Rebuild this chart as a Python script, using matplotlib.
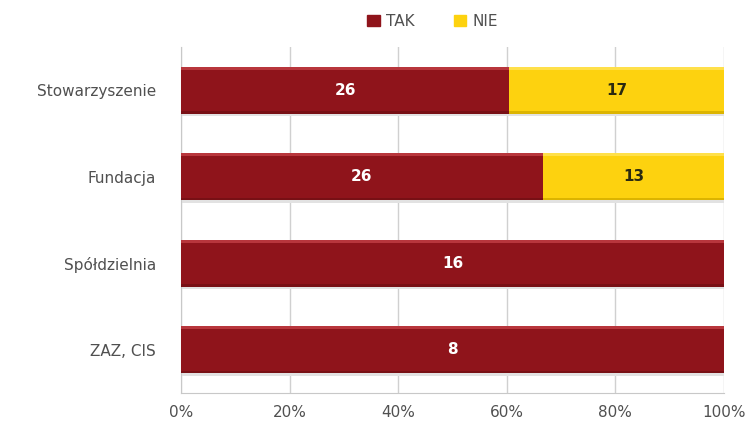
import matplotlib
matplotlib.use("Agg")
import matplotlib.pyplot as plt
import numpy as np

categories = ["Stowarzyszenie", "Fundacja", "Spółdzielnia", "ZAZ, CIS"]
tak = [26, 26, 16, 8]
nie = [17, 13, 0, 0]
series_names = ["TAK", "NIE"]
tick_labels = ["0%", "20%", "40%", "60%", "80%", "100%"]

RED = "#8f141b"
RED_HI = "#b8363c"
RED_LO = "#781015"
YEL = "#fdd20f"
YEL_HI = "#ffe04a"
YEL_LO = "#dcb400"
TXT = "#505050"

plt.rcParams["font.family"] = ["DejaVu Sans"]

fig = plt.figure(figsize=(7.55, 4.34), dpi=100)
ax = fig.add_axes([0.2397, 0.0945, 0.7193, 0.7972])

tak_a = np.array(tak, float)
nie_a = np.array(nie, float)
total = tak_a + nie_a
p_tak = tak_a / total
p_nie = nie_a / total
y = np.arange(len(categories))
h = 0.545

def bevel_bar(left, width, color, hi, lo):
    # soft shadow under the bar
    ax.barh(y + h / 2 + 0.015, width, left=left, height=0.03, color="#e2e2e2", zorder=2, linewidth=0)
    ax.barh(y, width, left=left, height=h, color=color, zorder=3, linewidth=0)
    # light top edge and dark bottom edge for a raised look
    ax.barh(y - h / 2 + 0.018, width, left=left, height=0.036, color=hi, zorder=4, linewidth=0)
    ax.barh(y + h / 2 - 0.015, width, left=left, height=0.03, color=lo, zorder=4, linewidth=0)

bevel_bar(0, p_tak, RED, RED_HI, RED_LO)
bevel_bar(p_tak, p_nie, YEL, YEL_HI, YEL_LO)

for i in range(len(categories)):
    ax.text(p_tak[i] / 2, y[i], f"{tak[i]}", ha="center", va="center",
            color="white", fontsize=11, fontweight="bold", zorder=5)
    if nie[i] > 0:
        ax.text(p_tak[i] + p_nie[i] / 2, y[i], f"{nie[i]}", ha="center", va="center",
                color="#2a2a10", fontsize=11, fontweight="bold", zorder=5)

ax.set_xlim(0, 1)
ax.set_ylim(len(categories) - 0.5, -0.5)
ticks = np.linspace(0, 1, len(tick_labels))
ax.set_xticks(ticks)
ax.set_xticklabels(tick_labels, fontsize=11, color=TXT)
ax.set_yticks(y)
ax.set_yticklabels(categories, fontsize=11, color=TXT)
ax.tick_params(axis="x", length=0, pad=9)
ax.tick_params(axis="y", length=0, pad=18)
ax.xaxis.grid(True, color="#d0d0d0", linewidth=1.0, zorder=0)
ax.set_axisbelow(True)
for s in ["top", "right"]:
    ax.spines[s].set_visible(False)
ax.spines["left"].set_color("#c8c8c8")
ax.spines["bottom"].set_color("#c8c8c8")

# legend
handles = [plt.Rectangle((0, 0), 1, 1, color=RED), plt.Rectangle((0, 0), 1, 1, color=YEL)]
fig.legend(handles, series_names, loc="center", bbox_to_anchor=(0.573, 0.951), ncol=2,
           frameon=False, fontsize=11, handlelength=0.8, handleheight=0.8,
           handletextpad=0.4, columnspacing=2.6, labelcolor=TXT)

fig.savefig("out.png", dpi=100)
